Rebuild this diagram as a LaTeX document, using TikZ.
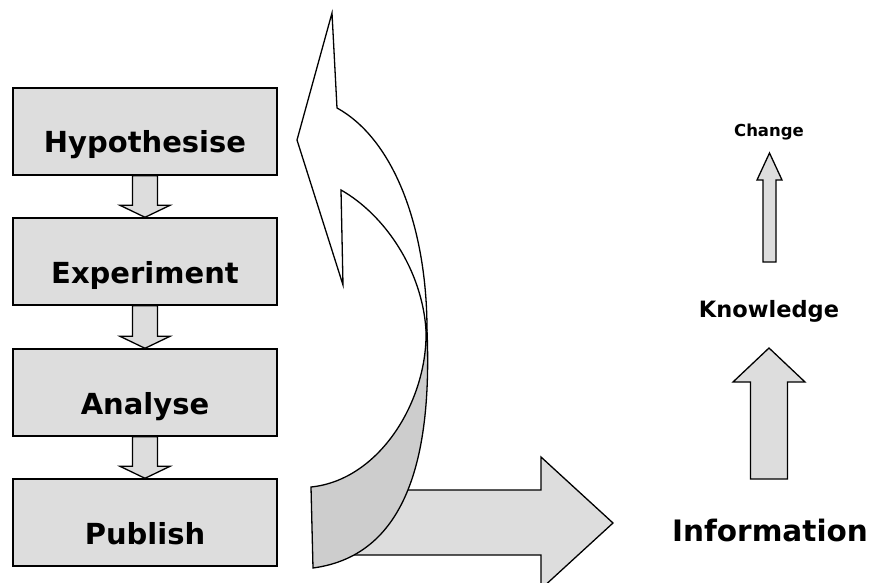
\documentclass[tikz,border=0pt]{standalone}
\usepackage{fontspec}
\setmainfont{DejaVu Sans}
\usetikzlibrary{calc}

\definecolor{boxgray}{HTML}{DDDDDD}
\definecolor{backgray}{HTML}{CDCDCD}

\tikzset{
  stage/.style={draw, line width=1.4pt, fill=boxgray, minimum width=264pt,
    minimum height=87pt, text height=43pt, text depth=0pt,
    font=\bfseries\fontsize{29}{31}\selectfont},
  blockarrow/.style={draw, line width=1.3pt, fill=boxgray, line join=miter},
  word/.style={font=\bfseries\selectfont}
}

\begin{document}
\begin{tikzpicture}[x=1pt,y=-1pt]
\useasboundingbox (0,0) rectangle (878,583);

% % Etapas
\node[stage] (hyp) at (145,131.5) {Hypothesise};
\node[stage] (exp) at (145,261.5) {Experiment};
\node[stage] (ana) at (145,392.5) {Analyse};
\node[stage] (pub) at (145,522.5) {Publish};

\foreach \a/\b in {hyp/exp,exp/ana,ana/pub}
  \draw[blockarrow] ($(\a.south)+(-12.5,0)$) -- ($(\b.north)+(-12.5,-12)$)
    -- ($(\b.north)+(-25,-12)$) -- (\b.north) -- ($(\b.north)+(25,-12)$)
    -- ($(\b.north)+(12.5,-12)$) -- ($(\a.south)+(12.5,0)$) -- cycle;

% Flecha grande hacia la derecha
\draw[blockarrow] (330,490) -- (541,490) -- (541,457) -- (613,523)
  -- (541,589) -- (541,555) -- (330,555) -- cycle;

% Parte de atras de la cinta
\draw[line width=1.3pt, fill=backgray]
  (426,330) .. controls (428,400) and (380,480) .. (311,487)
  -- (313,568) .. controls (410,555) and (432,450) .. (427,330) -- cycle;

% Parte de delante con la punta
\draw[line width=1.3pt, fill=white, line join=miter]
  (343,285) -- (297,140) -- (332,13) -- (337,108)
  .. controls (395,140) and (427,230) .. (427,330)
  -- (426,330) .. controls (422,270) and (385,215) .. (341,190) -- cycle;

% % Columna derecha
\node[word, font=\bfseries\fontsize{29.5}{31}\selectfont] (info) at (770,530) {Information};
\node[word, font=\bfseries\fontsize{22.5}{24}\selectfont] (know) at (769,311) {Knowledge};
\node[word, font=\bfseries\fontsize{16.5}{18}\selectfont] (chg) at (769,132) {Change};

\coordinate (ik) at (769,479);
\coordinate (kc) at (769.5,262);
\draw[blockarrow] ($(ik)+(-18.5,0)$) -- ($(ik)+(-18.5,-97)$) -- ($(ik)+(-36,-97)$)
  -- ($(ik)+(0,-131)$) -- ($(ik)+(36,-97)$) -- ($(ik)+(18.5,-97)$)
  -- ($(ik)+(18.5,0)$) -- cycle;
\draw[blockarrow] ($(kc)+(-6.5,0)$) -- ($(kc)+(-6.5,-82)$) -- ($(kc)+(-12.5,-82)$)
  -- ($(kc)+(0,-109)$) -- ($(kc)+(12.5,-82)$) -- ($(kc)+(6.5,-82)$)
  -- ($(kc)+(6.5,0)$) -- cycle;
\end{tikzpicture}
\end{document}
